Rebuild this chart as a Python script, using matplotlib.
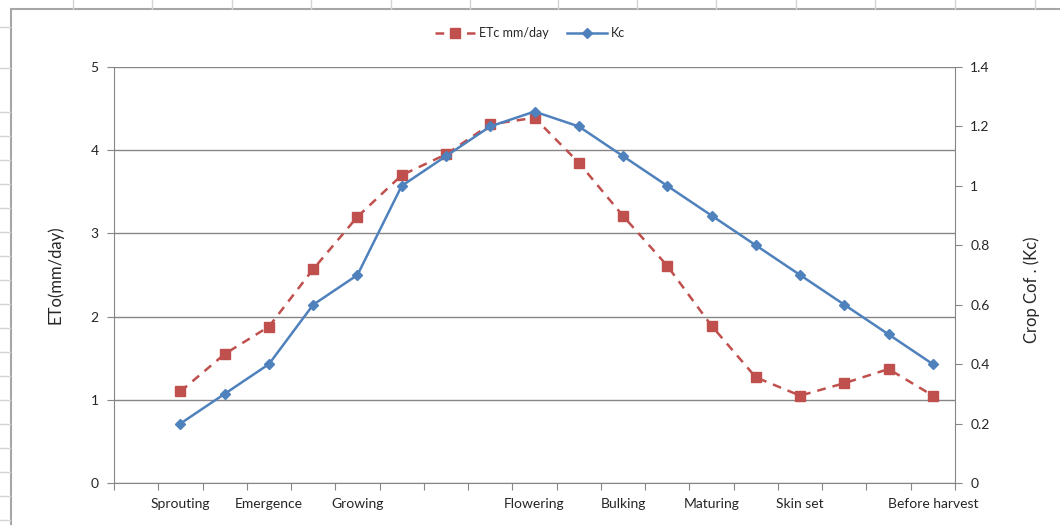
import numpy as np
import matplotlib.pyplot as plt
from matplotlib.lines import Line2D
from matplotlib.patches import Rectangle
from matplotlib.ticker import FormatStrFormatter

plt.rcParams['font.family'] = ['Lato', 'DejaVu Sans']

# Data
categories = ['', 'Sprouting', '', 'Emergence', '', 'Growing', '', '', '',
              'Flowering', '', 'Bulking', '', 'Maturing', '', 'Skin set',
              '', '', 'Before harvest']
etc_mm_day = [np.nan, 1.1, 1.55, 1.88, 2.57, 3.2, 3.7, 3.95, 4.31, 4.39,
              3.85, 3.21, 2.61, 1.89, 1.27, 1.05, 1.2, 1.37, 1.05]
kc = [np.nan, 0.2, 0.3, 0.4, 0.6, 0.7, 1.0, 1.1, 1.2, 1.25,
      1.2, 1.1, 1.0, 0.9, 0.8, 0.7, 0.6, 0.5, 0.4]

W, H = 1060, 525
red = '#C0504D'
blue = '#4F81BD'
grid_c = '#868686'
txt_c = '#262626'

fig = plt.figure(figsize=(W / 100, H / 100), dpi=100)

# spreadsheet background lines outside the chart frame
for xc in [73, 152, 232, 311, 391, 470, 558, 637, 716, 796, 875, 955, 1035]:
    fig.add_artist(Line2D([xc / W, xc / W], [1, 1 - 9 / H], color='#D4D4D4', lw=1))
for yr in [27, 68] + list(range(112, 525, 24)):
    fig.add_artist(Line2D([0, 10 / W], [1 - yr / H, 1 - yr / H], color='#D4D4D4', lw=1))

# chart frame
fig.add_artist(Rectangle((11 / W, -0.01), 1.0, 1 - 9 / H + 0.01, transform=fig.transFigure,
                         facecolor='white', edgecolor='#A6A6A6', lw=1.5, zorder=0))

ax = fig.add_axes([114 / W, 1 - 483 / H, (955 - 114) / W, 416 / H])
ax.set_facecolor('none')
x = np.arange(len(categories))

l1, = ax.plot(x, etc_mm_day, color=red, lw=1.8, ls=(0, (3.5, 2.8)), marker='s',
              markersize=7, markerfacecolor=red, markeredgecolor=red, label='ETc mm/day')
ax.set_xlim(-0.5, len(categories) - 0.5)
ax.set_ylim(0, 5)
ax.set_yticks(np.arange(0, 6, 1))
ax.yaxis.grid(True, color=grid_c, lw=1)
ax.set_axisbelow(True)

ax2 = ax.twinx()
l2, = ax2.plot(x, kc, color=blue, lw=1.8, marker='D', markersize=5.5,
               markerfacecolor=blue, markeredgecolor=blue, label='Kc')
ax2.set_ylim(0, 1.4)
ax2.set_yticks(np.arange(0, 1.41, 0.2))
ax2.yaxis.set_major_formatter(FormatStrFormatter('%g'))
ax2.set_yticklabels(['0', '0.2', '0.4', '0.6', '0.8', '1', '1.2', '1.4'])

# category axis: ticks between categories, labels centred
ax.set_xticks(np.arange(-0.5, len(categories), 1))
ax.set_xticklabels([])
ax.set_xticks(x, minor=True)
ax.set_xticklabels(categories, minor=True)
ax.tick_params(axis='x', which='major', length=5, color=grid_c, direction='out')
ax.tick_params(axis='x', which='minor', length=0, pad=11, labelsize=10, labelcolor=txt_c)
ax.tick_params(axis='y', length=5, color=grid_c, labelsize=10, labelcolor=txt_c, pad=6)
ax2.tick_params(axis='y', length=5, color=grid_c, labelsize=10, labelcolor=txt_c, pad=6)

for a in (ax, ax2):
    for s in a.spines.values():
        s.set_visible(False)
ax.spines['left'].set_visible(True)
ax.spines['left'].set_color(grid_c)
ax.spines['bottom'].set_visible(True)
ax.spines['bottom'].set_color(grid_c)
ax2.spines['right'].set_visible(True)
ax2.spines['right'].set_color(grid_c)

fig.text(55 / W, 1 - 275 / H, 'ETo(mm/day)', rotation=90, ha='center', va='center',
         fontsize=12, color=txt_c)
fig.text(1032 / W, 1 - 290 / H, 'Crop Cof . (Kc)', rotation=90, ha='center', va='center',
         fontsize=12, color=txt_c)

fig.legend(handles=[l1, l2], loc='center', bbox_to_anchor=(530 / W, 1 - 33 / H), ncol=2,
           frameon=False, fontsize=9, handlelength=3.2, columnspacing=1.5,
           handletextpad=0.3, labelcolor=txt_c)

fig.savefig('out.png', dpi=100)
